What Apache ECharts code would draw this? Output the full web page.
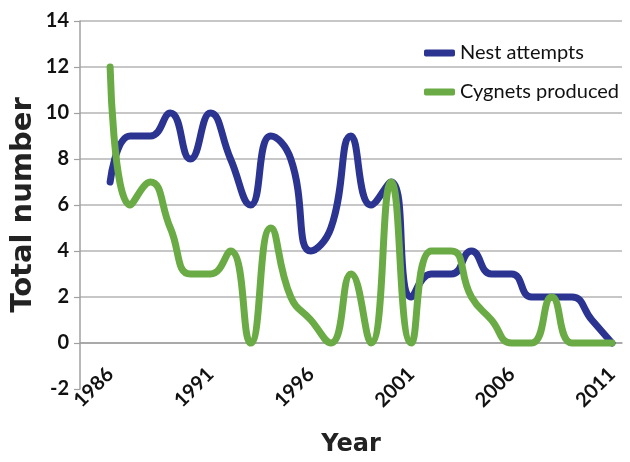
<!DOCTYPE html>
<html>
<head>
<meta charset="utf-8">
<script src="https://cdn.jsdelivr.net/npm/echarts@6/dist/echarts.min.js"></script>
<style>
  html, body { margin: 0; padding: 0; background: #fff; }
  #chart { width: 630px; height: 462px; }
</style>
</head>
<body>
<div id="chart"></div>
<script>
  'use strict'

  /********************* DATA *********************/
  var years = [1986, 1987, 1988, 1989, 1990, 1991, 1992, 1993, 1994, 1995, 1996, 1997, 1998,
               1999, 2000, 2001, 2002, 2003, 2004, 2005, 2006, 2007, 2008, 2009, 2010, 2011];
  var nestAttempts = [7, 9, 9, 10, 8, 10, 8, 6, 9, 8, 4, 5, 9, 6, 7, 2, 3, 3, 4, 3, 3, 2, 2, 2, 1, 0];
  var cygnetsProduced = [12, 6, 7, 5, 3, 3, 4, 0, 5, 2, 1, 0, 3, 0, 7, 0, 4, 4, 2, 1, 0, 0, 2, 0, 0, 0];
  var yTicks = { min: -2, max: 14, step: 2 };
  var labelEvery = 5;

  var font = 'Lato, "Open Sans", sans-serif';
  var titleFont = '"DejaVu Sans", sans-serif';

  // empty slot before the first year, the axis starts one category early
  var categories = [''].concat(years.map(String));

  var chart = echarts.init(document.getElementById('chart'), null, { renderer: 'canvas' });

  var option = {
    animation: false,
    grid: {
      left: 80,
      right: 8,
      top: 21,
      bottom: 73,
      containLabel: false,
      outerBoundsMode: 'none'
    },
    legend: {
      orient: 'vertical',
      left: 419,
      top: 38,
      itemGap: 19,
      itemWidth: 31,
      itemHeight: 7,
      icon: 'roundRect',
      textStyle: {
        fontFamily: font,
        fontSize: 20,
        color: '#111'
      },
      data: ['Nest attempts', 'Cygnets produced']
    },
    xAxis: {
      type: 'category',
      data: categories,
      boundaryGap: true,
      name: 'Year',
      nameLocation: 'middle',
      nameGap: 44,
      nameMoveOverlap: false,
      nameTextStyle: {
        fontFamily: titleFont,
        fontSize: 24,
        fontWeight: 'bold',
        color: '#222'
      },
      axisLine: {
        onZero: true,
        lineStyle: { color: '#a0a0a0', width: 1.5 }
      },
      axisTick: {
        interval: 0,
        length: 5,
        lineStyle: { color: '#a0a0a0', width: 1.2 }
      },
      axisLabel: {
        interval: function (index, value) {
          return value !== '' && (Number(value) - years[0]) % labelEvery === 0;
        },
        rotate: 45,
        margin: -18,
        fontFamily: font,
        fontSize: 20,
        fontWeight: 'bold',
        color: '#111'
      },
      splitLine: { show: false }
    },
    yAxis: {
      type: 'value',
      min: yTicks.min,
      max: yTicks.max,
      interval: yTicks.step,
      name: 'Total number',
      nameLocation: 'middle',
      nameGap: 42,
      nameMoveOverlap: false,
      nameTextStyle: {
        fontFamily: titleFont,
        fontSize: 29,
        fontWeight: 'bold',
        color: '#222'
      },
      axisLine: {
        show: true,
        lineStyle: { color: '#a0a0a0', width: 1.5 }
      },
      axisTick: {
        show: true,
        length: 6,
        lineStyle: { color: '#a0a0a0', width: 1.2 }
      },
      axisLabel: {
        margin: 11,
        fontFamily: font,
        fontSize: 20,
        fontWeight: 'bold',
        color: '#111'
      },
      splitLine: {
        showMinLine: false,
        lineStyle: { color: '#b5b5b5', width: 1.5 }
      }
    },
    series: [
      {
        name: 'Nest attempts',
        type: 'line',
        data: [null].concat(nestAttempts),
        smooth: 0.5,
        symbol: 'none',
        color: '#2b3491',
        lineStyle: { width: 7, cap: 'round', join: 'round' }
      },
      {
        name: 'Cygnets produced',
        type: 'line',
        data: [null].concat(cygnetsProduced),
        smooth: 0.5,
        symbol: 'none',
        color: '#6aab45',
        lineStyle: { width: 7, cap: 'round', join: 'round' }
      }
    ]
  };

  chart.setOption(option);
</script>
</body>
</html>
